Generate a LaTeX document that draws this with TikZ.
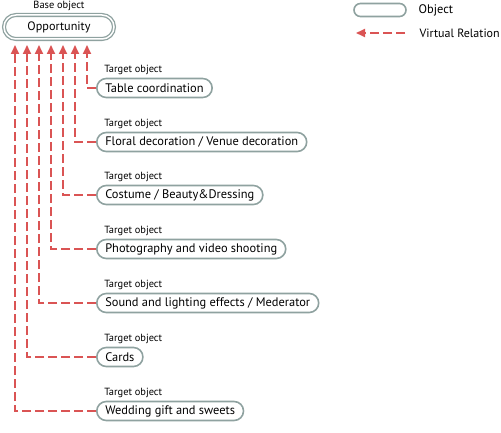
\documentclass[tikz,border=0pt]{standalone}
\usepackage{fontspec}
\setmainfont{PT Sans}
\usepackage{xcolor}
\usetikzlibrary{arrows.meta}
\usetikzlibrary{positioning}

\definecolor{objgray}{RGB}{143,162,160}
\definecolor{relred}{RGB}{218,84,84}

\begin{document}
\begin{tikzpicture}[x=1pt,y=1pt,>={Triangle[width=8pt,length=9pt]},semithick]
 \tikzstyle{object}=[draw=objgray, line width=1.6pt, rounded corners=9.5pt, fill=white, text=black, minimum height=19pt, inner xsep=8.5pt, font=\fontsize{12.4}{14}\selectfont]
 \tikzstyle{base}=[draw=objgray, line width=1.3pt, double, double distance=1.5pt, rounded corners=12pt, minimum width=110pt, minimum height=24pt, font=\fontsize{12.2}{14}\selectfont]
 \tikzstyle{tag}=[inner sep=0pt, font=\fontsize{10.4}{12}\selectfont]
 \tikzstyle{relation}=[relred, line width=1.8pt, dash pattern=on 9pt off 4pt]
 \useasboundingbox (0,0) rectangle (501,-433);
 % base object
 \node[base] (opp) at (59,-27) {Opportunity};
 \node[tag] (basetag) at (59,-6) {Base object};
 % target objects
 \node[object, anchor=west] (t1) at (96,-88) {Table coordination};
 \node[object, anchor=west] (t2) at (96,-142) {Floral decoration / Venue decoration};
 \node[object, anchor=west] (t3) at (96,-195) {Costume / Beauty\&Dressing};
 \node[object, anchor=west] (t4) at (96,-249) {Photography and video shooting};
 \node[object, anchor=west] (t5) at (96,-303) {Sound and lighting effects / Mederator};
 \node[object, anchor=west] (t6) at (96,-357) {Cards};
 \node[object, anchor=west] (t7) at (96,-411) {Wedding gift and sweets};
 \foreach \t in {1,...,7}
   \node[tag, anchor=south west] (tag\t) [above right=3pt and 8pt of t\t.north west] {Target object};
 % virtual relations
 \foreach \t/\x in {1/87,2/75,3/63,4/51,5/39,6/27,7/15}
 {
   \coordinate (bend\t) at (\x,0 |- t\t.west);
   \coordinate (tip\t) at (\x,-45);
   \draw[relation, ->] (t\t.west) -- (bend\t) -- (tip\t);
 }
 % legend
 \node[object, minimum width=52pt, minimum height=13pt, rounded corners=6.5pt] (legobj) at (380,-10) {};
 \node[anchor=west, font=\fontsize{12.4}{14}\selectfont] (legobjtxt) at (415,-10) {Object};
 \coordinate (legtail) at (405,-33);
 \coordinate (legtip) at (356,-33);
 \draw[relation, ->] (legtail) -- (legtip);
 \node[anchor=west, font=\fontsize{12}{14}\selectfont] (legreltxt) at (416,-33) {Virtual Relation};
\end{tikzpicture}
\end{document}
